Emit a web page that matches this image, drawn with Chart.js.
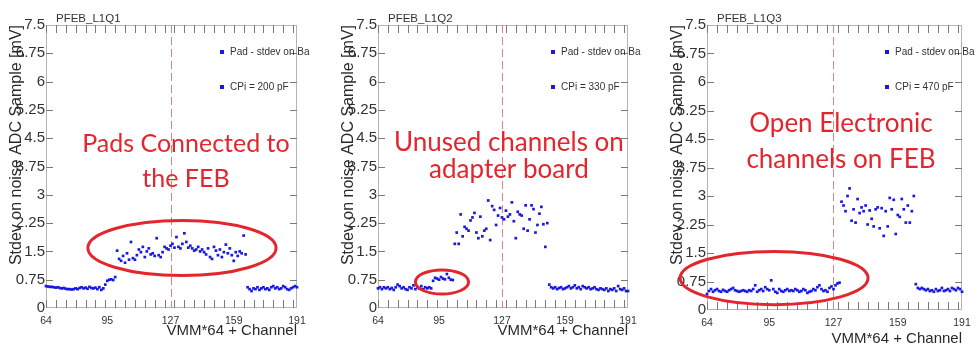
<!DOCTYPE html>
<html>
<head>
<meta charset="utf-8">
<script src="https://cdn.jsdelivr.net/npm/chart.js@4/dist/chart.umd.min.js"></script>
<style>
html, body { margin: 0; padding: 0; background: #fff; }
#wrap { position: relative; width: 978px; height: 348px; overflow: hidden; }
#wrap canvas { position: absolute; top: 0; }
</style>
</head>
<body>
<div id="wrap">
   <canvas id="q1" width="326" height="348" style="left:0"></canvas>
   <canvas id="q2" width="326" height="348" style="left:326px"></canvas>
   <canvas id="q3" width="326" height="348" style="left:652px"></canvas>
</div>
<script>
// channels 64..191 (VMM*64 + Channel)
const channels = Array.from({ length: 128 }, (_, i) => 64 + i);
const xTickLabels = [64, 95, 127, 159, 191];
const yStep = 0.75;
const yMax = 7.5;

const panelNames = ["PFEB_L1Q1", "PFEB_L1Q2", "PFEB_L1Q3"];
const legendText = "Pad - stdev on Ba";
const cpiText = ["CPi = 200 pF", "CPi = 330 pF", "CPi = 470 pF"];
const xTitle = "VMM*64 + Channel";
const yTitle = "Stdev on noise ADC Sample [mV]";
const noteText = [
   ["Pads Connected to", "the FEB"],
   ["Unused channels on", "adapter board"],
   ["Open Electronic", "channels on FEB"]
];

// stdev values, one per channel 64..191
const q1Values = [
   0.58, 0.57, 0.56, 0.56, 0.55, 0.54, 0.55, 0.53, 0.52, 0.53, 0.51, 0.50, 0.50, 0.49, 0.50, 0.52, 0.50, 0.53, 0.55, 0.52,
   0.54, 0.51, 0.56, 0.53, 0.52, 0.54, 0.50, 0.55, 0.48,
   0.52, 0.62, 0.72, 0.75, 0.76, 0.74, 0.82,
   1.52, 1.30, 1.25, 1.38, 1.20, 1.45, 1.28, 1.75, 1.32, 1.28, 1.40, 1.55, 1.48, 1.62, 1.35, 1.50, 1.58, 1.42, 1.45, 1.38,
   1.85, 1.40, 1.35, 1.48, 1.62, 1.58, 1.55, 1.65, 1.70, 1.60, 1.88, 1.62, 1.58, 1.70, 1.98, 1.75, 1.60, 1.65, 1.58, 1.52,
   1.55, 1.62, 1.50, 1.55, 1.48, 1.42, 1.58, 1.35, 1.30, 1.62, 1.52, 1.40, 1.55, 1.35, 1.48, 1.68, 1.45, 1.58, 1.40, 1.25,
   1.48, 1.38, 1.50, 1.45, 1.92, 1.42,
   0.55, 0.50, 0.45, 0.52, 0.50, 0.55, 0.48, 0.52, 0.55, 0.50, 0.52, 0.48, 0.55, 0.58, 0.52, 0.55, 0.50, 0.52, 0.58, 0.55,
   0.50, 0.48, 0.52, 0.55, 0.58, 0.55
];
const q2Values = [
   0.52, 0.55, 0.50, 0.55, 0.52, 0.55, 0.50, 0.53, 0.48, 0.55, 0.62, 0.58, 0.52, 0.55, 0.50, 0.48, 0.55, 0.52, 0.60, 0.50,
   0.55, 0.52, 0.58, 0.50, 0.55, 0.52, 0.55, 0.52,
   0.72, 0.80, 0.78, 0.75, 0.82, 0.78, 0.76, 0.90, 0.80, 0.75, 0.74,
   1.70, 2.00, 1.70, 2.48, 1.90, 2.15, 2.10, 2.05, 2.32, 2.40, 2.52, 2.00, 1.85, 2.42, 1.90, 2.05, 2.10, 2.85, 1.80, 2.70,
   2.60, 2.20, 2.45, 2.65, 2.40, 2.35, 2.58, 2.42, 2.48, 2.80, 2.30, 1.85, 2.55, 2.48, 2.45, 2.10, 2.72, 2.05, 2.35, 2.72,
   2.62, 2.00, 2.20, 2.50, 2.68, 2.22, 1.62, 2.25,
   0.62, 0.55, 0.52, 0.55, 0.50, 0.53, 0.55, 0.50, 0.52, 0.55, 0.58, 0.52, 0.55, 0.60, 0.52, 0.55, 0.50, 0.58, 0.55, 0.52,
   0.55, 0.50, 0.52, 0.55, 0.50, 0.48, 0.52, 0.50, 0.48, 0.52, 0.45, 0.50, 0.48, 0.52, 0.45, 0.58, 0.50, 0.48, 0.52, 0.45,
   0.45
];
const q3Values = [
   0.42, 0.50, 0.55, 0.48, 0.52, 0.55, 0.50, 0.48, 0.53, 0.50, 0.48, 0.52, 0.55, 0.58, 0.52, 0.50, 0.48, 0.50, 0.52, 0.50,
   0.48, 0.52, 0.50, 0.55, 0.65, 0.48, 0.52, 0.55, 0.50, 0.60, 0.55, 0.52, 0.78, 0.55, 0.48, 0.45, 0.55, 0.50, 0.48, 0.52,
   0.55, 0.50, 0.52, 0.50, 0.55, 0.52, 0.48, 0.50, 0.55, 0.52, 0.45, 0.48, 0.50, 0.55, 0.52, 0.60, 0.65, 0.55, 0.50, 0.52,
   0.48, 0.58, 0.62, 0.55, 0.65, 0.70, 0.72,
   2.85, 2.75, 2.60, 3.00, 3.20, 2.35, 2.65, 2.30, 2.92, 2.55, 2.70, 2.60, 2.75, 2.25, 2.62, 2.40, 2.20, 2.65, 2.70, 2.15,
   2.68, 1.95, 2.60, 2.20, 2.95, 2.65, 2.90, 2.00, 2.50, 2.45, 2.92, 2.65, 2.30, 2.75, 2.30, 2.60, 3.00,
   0.68, 0.58, 0.55, 0.58, 0.55, 0.52, 0.55, 0.50, 0.52, 0.48, 0.55, 0.50, 0.52, 0.58, 0.50, 0.52, 0.55, 0.50, 0.58, 0.55,
   0.52, 0.58, 0.55, 0.48
];

// layout of each panel (pixels inside its canvas) and annotation placement (data units)
const panels = [
   { id: "q1", values: q1Values, left: 46, right: 297, bottom: 308, xTitleY: 335, noteSize: 25,
     note: { c: 134.8, v: [4.13, 3.21] }, ring: { c: 132.8, v: 1.59, rc: 47.6, rv: 0.73 } },
   { id: "q2", values: q2Values, left: 52, right: 302, bottom: 308, xTitleY: 335, noteSize: 26,
     note: { c: 130.5, v: [4.16, 3.45] }, ring: { c: 96.5, v: 0.69, rc: 13.5, rv: 0.32 } },
   { id: "q3", values: q3Values, left: 55, right: 310, bottom: 310, xTitleY: 343, noteSize: 26,
     note: { c: 130.7, v: [4.69, 3.73] }, ring: { c: 97.4, v: 0.84, rc: 46.8, rv: 0.70 } }
];

const BLUE = "rgb(24,24,226)";
const RED = "#e3262d";
const AXIS_FONT = "'Liberation Sans', Arial, sans-serif";

const overlay = {
   id: "overlay",
   beforeDatasetsDraw(chart, args, o) {
      const { ctx, chartArea: a, scales: { x, y } } = chart;
      ctx.save();
      // frame
      ctx.strokeStyle = "#b4b4b4";
      ctx.lineWidth = 1;
      ctx.strokeRect(a.left + 0.5, a.top + 0.5, a.width - 1, a.height - 1);
      // inner ticks
      ctx.strokeStyle = "#7a7a7a";
      ctx.beginPath();
      for (let c = 64; c <= 191; c += 5) {
         const px = Math.round(x.getPixelForValue(c)) + 0.5;
         ctx.moveTo(px, a.bottom); ctx.lineTo(px, a.bottom - 8);
         ctx.moveTo(px, a.top); ctx.lineTo(px, a.top + 8);
      }
      for (let v = yStep; v < yMax; v += yStep) {
         const py = Math.round(y.getPixelForValue(v)) + 0.5;
         ctx.moveTo(a.left, py); ctx.lineTo(a.left + 7, py);
         ctx.moveTo(a.right, py); ctx.lineTo(a.right - 7, py);
      }
      ctx.stroke();
      // dashed marker at channel 127
      const px = Math.round(x.getPixelForValue(127)) + 0.5;
      ctx.strokeStyle = "#dc8585";
      ctx.setLineDash([8, 4]);
      ctx.beginPath();
      ctx.moveTo(px, a.top); ctx.lineTo(px, a.bottom);
      ctx.stroke();
      ctx.restore();
   },
   afterDatasetsDraw(chart, args, o) {
      const { ctx, chartArea: a, scales: { x, y } } = chart;
      ctx.save();
      // red ellipse
      const r = o.ring;
      const cx = x.getPixelForValue(r.c), cy = y.getPixelForValue(r.v);
      const rx = Math.abs(x.getPixelForValue(r.c + r.rc) - cx);
      const ry = Math.abs(y.getPixelForValue(r.v + r.rv) - cy);
      ctx.strokeStyle = RED;
      ctx.lineWidth = 3;
      ctx.beginPath();
      ctx.ellipse(cx, cy, rx, ry, 0, 0, Math.PI * 2);
      ctx.stroke();
      // red note
      ctx.fillStyle = RED;
      ctx.font = `${o.noteSize}px Lato, 'Open Sans', sans-serif`;
      ctx.textAlign = "center";
      ctx.textBaseline = "alphabetic";
      o.lines.forEach((line, i) => {
         ctx.fillText(line, x.getPixelForValue(o.note.c), y.getPixelForValue(o.note.v[i]));
      });

      // panel name
      ctx.fillStyle = "#333";
      ctx.textAlign = "left";
      ctx.font = `11.5px ${AXIS_FONT}`;
      ctx.fillText(o.name, a.left + 10, a.top - 3);

      // legend
      ctx.font = `10px ${AXIS_FONT}`;
      ctx.textBaseline = "middle";
      [legendText, o.cpi].forEach((t, i) => {
         const ly = a.top + 27 + i * 35;
         const lx = a.right - 75;
         ctx.fillStyle = BLUE;
         ctx.fillRect(lx - 2, ly - 2, 4, 4);
         ctx.fillStyle = "#333";
         ctx.fillText(t, lx + 8, ly);
      });

      // axis titles
      ctx.fillStyle = "#2a2a2a";
      ctx.font = `15px ${AXIS_FONT}`;
      ctx.textAlign = "right";
      ctx.textBaseline = "alphabetic";
      ctx.fillText(xTitle, a.right, o.xTitleY);

      ctx.save();
      ctx.translate(a.left - 29, a.top);
      ctx.rotate(-Math.PI / 2);
      ctx.font = `16px ${AXIS_FONT}`;
      ctx.textAlign = "right";
      ctx.textBaseline = "middle";
      ctx.fillText(yTitle, 0, 0);
      ctx.restore();
      ctx.restore();
   }
};

panels.forEach((p, k) => {
   new Chart(document.getElementById(p.id), {
      type: "scatter",
      data: {
         datasets: [{
            label: legendText,
            data: channels.map((c, i) => ({ x: c, y: p.values[i] })),
            backgroundColor: BLUE,
            borderColor: BLUE,
            pointStyle: "rect",
            pointRadius: 1.9,
            borderWidth: 0,
            clip: false
         }]
      },
      options: {
         responsive: false,
         animation: false,
         layout: { padding: { top: 25, right: 326 - p.right, bottom: 0, left: 0 } },
         plugins: {
            legend: { display: false },
            tooltip: { enabled: false },
            overlay: {
               name: panelNames[k], cpi: cpiText[k], lines: noteText[k],
               note: p.note, ring: p.ring, noteSize: p.noteSize, xTitleY: p.xTitleY
            }
         },
         scales: {
            x: {
               type: "linear",
               min: 64,
               max: 191,
               afterBuildTicks: (s) => { s.ticks = xTickLabels.map(v => ({ value: v })); },
               afterFit: (s) => { s.height = 348 - p.bottom; },
               grid: { display: false, drawTicks: false },
               border: { display: false },
               ticks: { padding: 7, font: { size: 10.5, family: AXIS_FONT }, color: "#333", maxRotation: 0, autoSkip: false }
            },
            y: {
               min: 0,
               max: yMax,
               afterBuildTicks: (s) => {
                  const t = [];
                  for (let v = 0; v <= yMax + 1e-9; v += yStep) t.push({ value: +v.toFixed(2) });
                  s.ticks = t;
               },
               afterFit: (s) => { s.width = p.left; },
               grid: { display: false, drawTicks: false },
               border: { display: false },
               ticks: {
                  padding: 1,
                  font: { size: 15, family: AXIS_FONT },
                  color: "#333",
                  callback: (v) => String(+(+v).toFixed(2))
               }
            }
         }
      },
      plugins: [overlay]
   });
});
</script>
</body>
</html>
